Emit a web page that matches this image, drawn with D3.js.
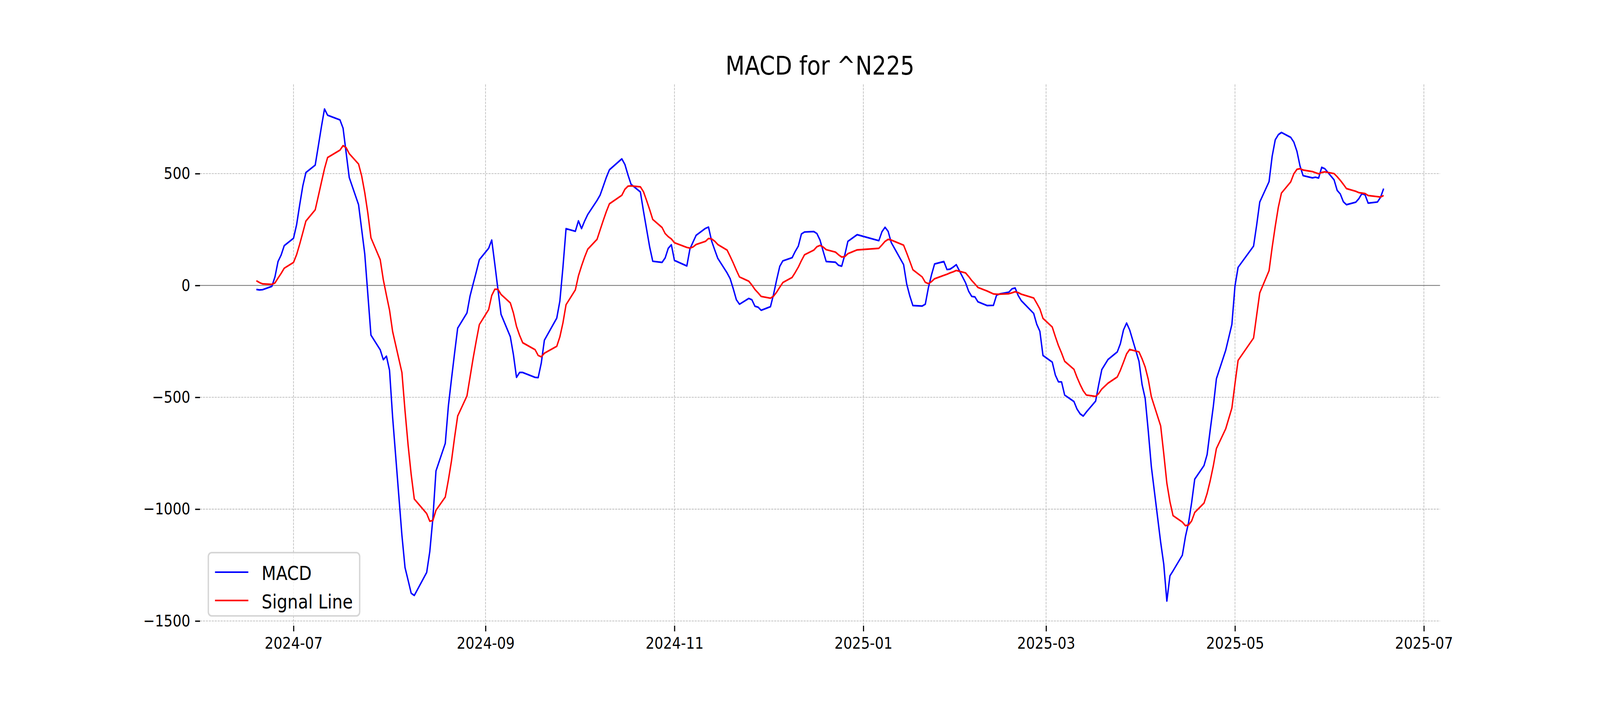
<!DOCTYPE html>
<html>
<head>
<meta charset="utf-8">
<script src="https://cdn.jsdelivr.net/npm/d3@7"></script>
<style>
  html, body { margin: 0; padding: 0; background: #fff; overflow: hidden; }
  .canvas { width: 100vw; height: 100vh; }
  svg { display: block; }
  text { font-family: "DejaVu Sans", sans-serif; }
</style>
</head>
<body>
<div class="canvas"></div>
<script>
// trading days, ^N225 (Jun 2024 - Jun 2025)
const dates = [
  '2024-06-19','2024-06-20','2024-06-21','2024-06-24','2024-06-25','2024-06-26','2024-06-27','2024-06-28',
  '2024-07-01','2024-07-02','2024-07-03','2024-07-04','2024-07-05','2024-07-08','2024-07-09','2024-07-10','2024-07-11','2024-07-12',
  '2024-07-16','2024-07-17','2024-07-18','2024-07-19','2024-07-22','2024-07-23','2024-07-24','2024-07-25','2024-07-26',
  '2024-07-29','2024-07-30','2024-07-31','2024-08-01','2024-08-02','2024-08-05','2024-08-06','2024-08-07','2024-08-08','2024-08-09',
  '2024-08-13','2024-08-14','2024-08-15','2024-08-16','2024-08-19','2024-08-20','2024-08-21','2024-08-22','2024-08-23',
  '2024-08-26','2024-08-27','2024-08-28','2024-08-29','2024-08-30','2024-09-02','2024-09-03','2024-09-04','2024-09-05','2024-09-06',
  '2024-09-09','2024-09-10','2024-09-11','2024-09-12','2024-09-13','2024-09-17','2024-09-18','2024-09-19','2024-09-20',
  '2024-09-24','2024-09-25','2024-09-26','2024-09-27','2024-09-30','2024-10-01','2024-10-02','2024-10-03','2024-10-04',
  '2024-10-07','2024-10-08','2024-10-09','2024-10-10','2024-10-11','2024-10-15','2024-10-16','2024-10-17','2024-10-18',
  '2024-10-21','2024-10-22','2024-10-23','2024-10-24','2024-10-25','2024-10-28','2024-10-29','2024-10-30','2024-10-31','2024-11-01',
  '2024-11-05','2024-11-06','2024-11-07','2024-11-08','2024-11-11','2024-11-12','2024-11-13','2024-11-14','2024-11-15',
  '2024-11-18','2024-11-19','2024-11-20','2024-11-21','2024-11-22','2024-11-25','2024-11-26','2024-11-27','2024-11-28','2024-11-29',
  '2024-12-02','2024-12-03','2024-12-04','2024-12-05','2024-12-06','2024-12-09','2024-12-10','2024-12-11','2024-12-12','2024-12-13',
  '2024-12-16','2024-12-17','2024-12-18','2024-12-19','2024-12-20','2024-12-23','2024-12-24','2024-12-25','2024-12-26','2024-12-27',
  '2024-12-30','2025-01-06','2025-01-07','2025-01-08','2025-01-09','2025-01-10','2025-01-14','2025-01-15','2025-01-16','2025-01-17',
  '2025-01-20','2025-01-21','2025-01-22','2025-01-23','2025-01-24','2025-01-27','2025-01-28','2025-01-29','2025-01-30','2025-01-31',
  '2025-02-03','2025-02-04','2025-02-05','2025-02-06','2025-02-07','2025-02-10','2025-02-12','2025-02-13','2025-02-14',
  '2025-02-17','2025-02-18','2025-02-19','2025-02-20','2025-02-21','2025-02-25','2025-02-26','2025-02-27','2025-02-28',
  '2025-03-03','2025-03-04','2025-03-05','2025-03-06','2025-03-07','2025-03-10','2025-03-11','2025-03-12','2025-03-13','2025-03-14',
  '2025-03-17','2025-03-18','2025-03-19','2025-03-21','2025-03-24','2025-03-25','2025-03-26','2025-03-27','2025-03-28',
  '2025-03-31','2025-04-01','2025-04-02','2025-04-03','2025-04-04','2025-04-07','2025-04-08','2025-04-09','2025-04-10','2025-04-11',
  '2025-04-14','2025-04-15','2025-04-16','2025-04-17','2025-04-18','2025-04-21','2025-04-22','2025-04-23','2025-04-24','2025-04-25',
  '2025-04-28','2025-04-30','2025-05-01','2025-05-02','2025-05-07','2025-05-08','2025-05-09','2025-05-12','2025-05-13','2025-05-14',
  '2025-05-15','2025-05-16','2025-05-19','2025-05-20','2025-05-21','2025-05-22','2025-05-23','2025-05-26','2025-05-27','2025-05-28',
  '2025-05-29','2025-05-30','2025-06-02','2025-06-03','2025-06-04','2025-06-05','2025-06-06','2025-06-09','2025-06-10','2025-06-11',
  '2025-06-12','2025-06-13','2025-06-16','2025-06-17','2025-06-18'
];

const macd = [
  -18,-20,-19,-4,38,107,136,178,
  211,272,361,445,505,538,623,709,789,761,
  740,703,592,482,361,251,141,-40,-222,
  -288,-332,-316,-379,-589,-1117,-1261,-1318,-1376,-1386,
  -1283,-1190,-1040,-829,-706,-539,-419,-303,-191,
  -123,-47,7,60,115,166,203,95,-17,-129,
  -229,-309,-411,-389,-389,-411,-412,-347,-245,
  -146,-70,82,254,242,289,254,288,317,
  380,404,443,483,517,566,541,494,452,
  418,332,252,172,108,103,123,166,182,112,
  87,163,194,224,255,261,199,159,121,
  56,30,-15,-64,-84,-58,-64,-93,-97,-111,
  -95,-40,25,85,110,124,152,176,230,239,
  241,232,203,154,107,104,90,86,136,197,
  227,200,240,260,242,192,93,6,-47,-90,
  -92,-84,-10,47,96,107,71,73,82,93,
  12,-26,-49,-51,-73,-90,-89,-44,-38,
  -30,-15,-11,-45,-68,-125,-174,-205,-313,
  -343,-401,-431,-431,-490,-519,-553,-574,-584,-566,
  -517,-443,-376,-331,-297,-260,-199,-168,-199,
  -339,-443,-505,-651,-811,-1148,-1246,-1411,-1298,-1276,
  -1206,-1123,-1061,-971,-866,-805,-756,-646,-541,-417,
  -290,-174,-2,81,176,270,373,464,577,651,
  674,684,662,641,600,534,491,481,484,480,
  528,522,472,425,409,374,361,372,388,411,
  405,368,373,394,433
];

const signal = [
  21,13,7,5,11,33,54,77,
  103,138,185,236,288,338,399,461,522,572,
  605,625,616,589,543,490,415,323,213,
  115,25,-44,-110,-206,-389,-560,-714,-846,-955,
  -1020,-1054,-1051,-1005,-946,-870,-785,-680,-584,
  -494,-410,-325,-248,-175,-108,-45,-17,-17,-40,
  -78,-123,-183,-223,-256,-287,-313,-319,-303,
  -272,-230,-167,-86,-20,43,87,127,162,
  206,248,290,330,365,403,430,444,445,
  441,419,380,339,295,259,232,218,208,191,
  170,167,172,183,197,210,208,198,183,
  158,130,100,68,38,19,2,-18,-33,-49,
  -57,-48,-30,-8,13,36,58,82,111,137,
  158,173,179,172,160,149,137,127,129,142,
  159,166,181,197,206,203,180,145,108,70,
  38,14,8,17,30,45,50,56,61,67,
  56,40,22,7,-9,-25,-38,-39,-39,
  -37,-33,-28,-32,-39,-56,-80,-105,-147,
  -186,-229,-269,-302,-339,-375,-411,-443,-471,-490,
  -496,-483,-463,-437,-409,-379,-343,-306,-286,
  -297,-328,-365,-420,-498,-628,-752,-884,-967,-1029,
  -1058,-1074,-1071,-1053,-1015,-973,-930,-873,-807,-729,
  -641,-548,-439,-335,-235,-133,-33,66,170,264,
  350,413,463,499,519,522,516,509,504,499,
  505,508,500,486,470,452,433,421,415,413,
  411,402,397,395,402
];

const xTicks = ['2024-07-01','2024-09-01','2024-11-01','2025-01-01','2025-03-01','2025-05-01','2025-07-01'];
const yTicks = [-1500, -1000, -500, 0, 500];
const seriesNames = ['MACD', 'Signal Line'];
const seriesColors = ['blue', 'red'];
const title = 'MACD for ^N225';

const dims = { width: 4800, height: 1800 };
const plot = { left: 600, right: 4320, top: 216, bottom: 1602 };
const px = 300 / 72;

const parse = d3.utcParse('%Y-%m-%d');
const data = dates.map((d, i) => ({ date: parse(d), macd: macd[i], signal: signal[i] }));

// drawn in a fixed 4800x1800 user space, stretched to the window
const svg = d3.select('.canvas')
  .append('svg')
  .attr('viewBox', `0 0 ${dims.width} ${dims.height}`)
  .attr('preserveAspectRatio', 'none')
  .attr('width', '100%')
  .attr('height', '100%')
  .style('background', '#fff');

// matplotlib-like 5% margins
const xExt = d3.extent(data, d => d.date);
const xPad = (xExt[1] - xExt[0]) * 0.05;
const x = d3.scaleUtc()
  .domain([new Date(+xExt[0] - xPad), new Date(+xExt[1] + xPad)])
  .range([plot.left, plot.right]);

const yMin = d3.min(data, d => Math.min(d.macd, d.signal));
const yMax = d3.max(data, d => Math.max(d.macd, d.signal));
const yPad = (yMax - yMin) * 0.05;
const y = d3.scaleLinear()
  .domain([yMin - yPad, yMax + yPad])
  .range([plot.bottom, plot.top]);

const grid = svg.append('g');
const tickDates = xTicks.map(parse);
const dash = `${3.7 * 0.4 * px},${1.6 * 0.4 * px}`;

grid.selectAll('.vgrid').data(tickDates).enter().append('line')
  .attr('x1', d => x(d)).attr('x2', d => x(d))
  .attr('y1', plot.top).attr('y2', plot.bottom)
  .attr('stroke', '#b0b0b0')
  .attr('stroke-width', 0.4 * px)
  .attr('stroke-dasharray', dash);

grid.selectAll('.hgrid').data(yTicks).enter().append('line')
  .attr('x1', plot.left).attr('x2', plot.right)
  .attr('y1', d => y(d)).attr('y2', d => y(d))
  .attr('stroke', '#b0b0b0')
  .attr('stroke-width', 0.4 * px)
  .attr('stroke-dasharray', dash);

// zero line
svg.append('line')
  .attr('x1', plot.left).attr('x2', plot.right)
  .attr('y1', y(0)).attr('y2', y(0))
  .attr('stroke', 'gray')
  .attr('stroke-width', 0.5 * px);

// axes: ticks only, no spines
const xAxis = d3.axisBottom(x)
  .tickValues(tickDates)
  .tickFormat(d3.utcFormat('%Y-%m'))
  .tickSize(3.5 * px)
  .tickPadding(3.5 * px);

const gx = svg.append('g')
  .attr('transform', `translate(0, ${plot.bottom})`)
  .call(xAxis);
gx.select('.domain').remove();
gx.selectAll('line').attr('stroke', '#000').attr('stroke-width', 0.8 * px);
gx.selectAll('text')
  .attr('font-size', 10 * px)
  .attr('font-family', 'DejaVu Sans')
  .attr('fill', '#000');

const yAxis = d3.axisLeft(y)
  .tickValues(yTicks)
  .tickFormat(d3.format('d'))
  .tickSize(3.5 * px)
  .tickPadding(3.5 * px);

const gy = svg.append('g')
  .attr('transform', `translate(${plot.left}, 0)`)
  .call(yAxis);
gy.select('.domain').remove();
gy.selectAll('line').attr('stroke', '#000').attr('stroke-width', 0.8 * px);
gy.selectAll('text')
  .attr('font-size', 10 * px)
  .attr('font-family', 'DejaVu Sans')
  .attr('fill', '#000');

// series
const lineFor = key => d3.line()
  .x(d => x(d.date))
  .y(d => y(d[key]));

svg.append('path')
  .datum(data)
  .attr('fill', 'none')
  .attr('stroke', seriesColors[0])
  .attr('stroke-width', 1 * px)
  .attr('stroke-linejoin', 'round')
  .attr('d', lineFor('macd'));

svg.append('path')
  .datum(data)
  .attr('fill', 'none')
  .attr('stroke', seriesColors[1])
  .attr('stroke-width', 1 * px)
  .attr('stroke-linejoin', 'round')
  .attr('d', lineFor('signal'));

// title
svg.append('text')
  .attr('x', (plot.left + plot.right) / 2)
  .attr('y', plot.top - 6 * px)
  .attr('text-anchor', 'middle')
  .attr('font-size', 16 * px)
  .attr('fill', '#000')
  .text(title);

// legend, lower left
const fs = 12 * px;
const legend = svg.append('g');
const lx = plot.left + 0.5 * fs;
const lw = 454;
const lh = 162;
const ly = plot.bottom - 0.5 * fs - lh;

legend.append('rect')
  .attr('x', lx).attr('y', ly)
  .attr('width', lw).attr('height', lh)
  .attr('rx', 0.2 * fs).attr('ry', 0.2 * fs)
  .attr('fill', '#fff')
  .attr('fill-opacity', 0.8)
  .attr('stroke', '#cccccc')
  .attr('stroke-opacity', 0.8)
  .attr('stroke-width', 1 * px);

const items = legend.selectAll('.item')
  .data(seriesNames)
  .enter().append('g')
  .attr('transform', (d, i) => `translate(${lx + 0.4 * fs}, ${ly + 0.4 * fs + 0.65 * fs + i * 1.45 * fs})`);

items.append('line')
  .attr('x1', 0).attr('x2', 2 * fs)
  .attr('y1', -0.05 * fs).attr('y2', -0.05 * fs)
  .attr('stroke', (d, i) => seriesColors[i])
  .attr('stroke-width', 1 * px);

items.append('text')
  .attr('x', 2.8 * fs)
  .attr('y', 0.35 * fs)
  .attr('font-size', fs)
  .attr('fill', '#000')
  .text(d => d);
</script>
</body>
</html>
